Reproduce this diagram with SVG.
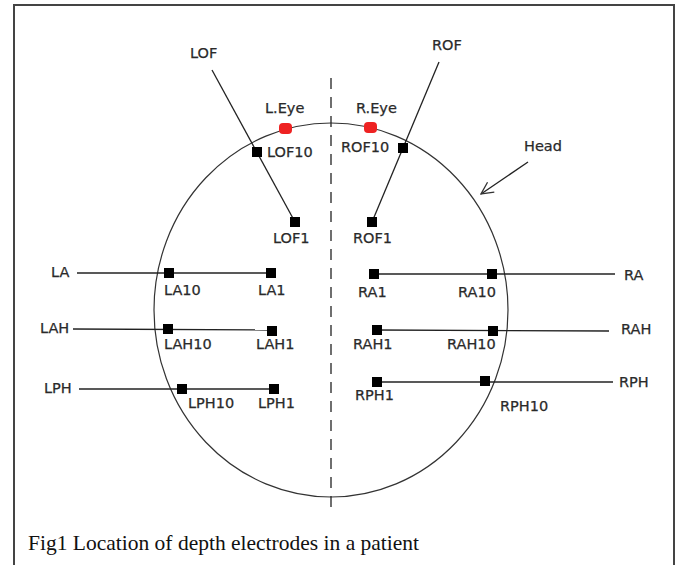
<svg xmlns="http://www.w3.org/2000/svg" width="688" height="565" viewBox="0 0 688 565">
<style>
.lbl{font-family:"DejaVu Sans",Verdana,sans-serif;font-size:14.5px;fill:#2a2a2a;stroke:#2a2a2a;stroke-width:0.25}
.ln{stroke:#222;stroke-width:1.3;fill:none}
.el{fill:#000}
.eye{fill:#ee2222}
.cap{font-family:"Liberation Serif","Times New Roman",serif;font-size:21.5px;fill:#111}
</style>
<defs>
<marker id="open" viewBox="0 0 14 14" refX="13" refY="7" markerWidth="14" markerHeight="14" markerUnits="userSpaceOnUse" orient="auto">
<path d="M1,1 L13,7 L1,13" fill="none" stroke="#333" stroke-width="1.3"/>
</marker>
</defs>
<rect width="688" height="565" fill="#fff"/>
<path d="M14,565 L14,5 L674,5 L674,565" fill="none" stroke="#444" stroke-width="2"/>
<g id="head">
<ellipse cx="331" cy="310" rx="177" ry="187" fill="none" stroke="#333" stroke-width="1.2"/>
<text class="lbl" x="524" y="151">Head</text>
</g>
<g id="midline">
<line x1="331" y1="78" x2="331" y2="508" stroke="#222" stroke-width="1.3" stroke-dasharray="11,8"/>
</g>
<g id="eyes">
<rect class="eye" x="279" y="123" width="13" height="11" rx="4"/>
<text class="lbl" x="265" y="113">L.Eye</text>
<rect class="eye" x="364" y="122" width="13" height="11" rx="4"/>
<text class="lbl" x="356" y="113">R.Eye</text>
</g>
<g id="connectors">
<line class="ln" x1="212" y1="70" x2="295" y2="222"/>
<line class="ln" x1="439" y1="62" x2="372" y2="222"/>
<line class="ln" x1="77" y1="273" x2="271" y2="273"/>
<line class="ln" x1="73" y1="329" x2="272" y2="330"/>
<line class="ln" x1="79" y1="389" x2="274" y2="389"/>
<line class="ln" x1="374" y1="274" x2="615" y2="274"/>
<line class="ln" x1="377" y1="330" x2="609" y2="331"/>
<line class="ln" x1="377" y1="382" x2="613" y2="382"/>
<line class="ln" x1="528" y1="162" x2="481" y2="194" marker-end="url(#open)"/>
</g>
<g id="LOF">
<text class="lbl" x="190" y="58">LOF</text>
<rect class="el" x="252" y="147" width="10" height="10"/>
<text class="lbl" x="267" y="157">LOF10</text>
<rect class="el" x="290" y="217" width="10" height="10"/>
<text class="lbl" x="273" y="243">LOF1</text>
</g>
<g id="ROF">
<text class="lbl" x="432" y="50">ROF</text>
<rect class="el" x="398" y="143" width="10" height="10"/>
<text class="lbl" x="341" y="152">ROF10</text>
<rect class="el" x="367" y="217" width="10" height="10"/>
<text class="lbl" x="353" y="243">ROF1</text>
</g>
<g id="LA">
<text class="lbl" x="51" y="277">LA</text>
<rect class="el" x="164" y="268" width="10" height="10"/>
<text class="lbl" x="164" y="295">LA10</text>
<rect class="el" x="266" y="268" width="10" height="10"/>
<text class="lbl" x="258" y="295">LA1</text>
</g>
<g id="LAH">
<text class="lbl" x="40" y="333">LAH</text>
<rect class="el" x="163" y="324" width="10" height="10"/>
<text class="lbl" x="164" y="349">LAH10</text>
<rect class="el" x="267" y="326" width="10" height="10"/>
<text class="lbl" x="256" y="349">LAH1</text>
</g>
<g id="LPH">
<text class="lbl" x="44" y="393">LPH</text>
<rect class="el" x="177" y="384" width="10" height="10"/>
<text class="lbl" x="188" y="408">LPH10</text>
<rect class="el" x="269" y="384" width="10" height="10"/>
<text class="lbl" x="258" y="408">LPH1</text>
</g>
<g id="RA">
<text class="lbl" x="624" y="280">RA</text>
<rect class="el" x="369" y="269" width="10" height="10"/>
<text class="lbl" x="358" y="297">RA1</text>
<rect class="el" x="487" y="269" width="10" height="10"/>
<text class="lbl" x="458" y="297">RA10</text>
</g>
<g id="RAH">
<text class="lbl" x="621" y="334">RAH</text>
<rect class="el" x="372" y="325" width="10" height="10"/>
<text class="lbl" x="353" y="349">RAH1</text>
<rect class="el" x="488" y="326" width="10" height="10"/>
<text class="lbl" x="447" y="349">RAH10</text>
</g>
<g id="RPH">
<text class="lbl" x="619" y="387">RPH</text>
<rect class="el" x="372" y="377" width="10" height="10"/>
<text class="lbl" x="355" y="400">RPH1</text>
<rect class="el" x="480" y="376" width="10" height="10"/>
<text class="lbl" x="500" y="411">RPH10</text>
</g>
<g id="caption">
<text class="cap" x="28" y="550">Fig1 Location of depth electrodes in a patient</text>
</g>
</svg>
